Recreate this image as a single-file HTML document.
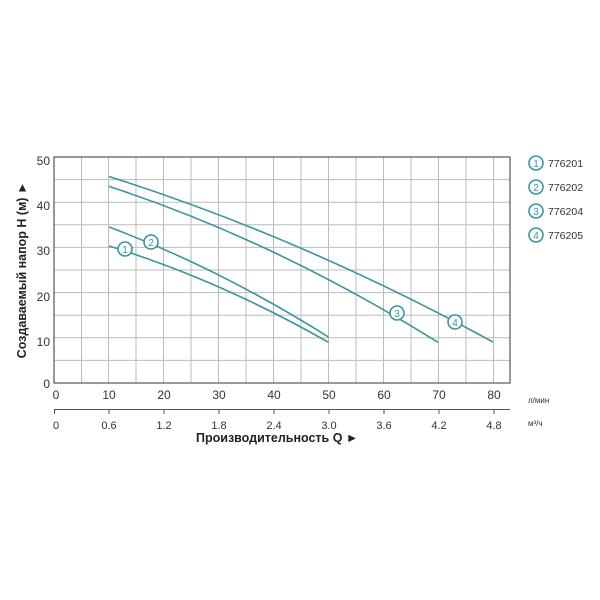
<!DOCTYPE html><html><head><meta charset="utf-8"><style>body{margin:0;background:#fff}svg{display:block}text{font-family:"Liberation Sans",sans-serif;fill:#333}</style></head><body>
<svg width="600" height="600" viewBox="0 0 600 600">
<g stroke="#bbb" stroke-width="1">
<line x1="81.5" y1="157" x2="81.5" y2="383"/><line x1="108.5" y1="157" x2="108.5" y2="383"/><line x1="136" y1="157" x2="136" y2="383"/><line x1="163.5" y1="157" x2="163.5" y2="383"/><line x1="191" y1="157" x2="191" y2="383"/><line x1="218.5" y1="157" x2="218.5" y2="383"/><line x1="246" y1="157" x2="246" y2="383"/><line x1="273.5" y1="157" x2="273.5" y2="383"/><line x1="301" y1="157" x2="301" y2="383"/><line x1="328.5" y1="157" x2="328.5" y2="383"/><line x1="356" y1="157" x2="356" y2="383"/><line x1="383.5" y1="157" x2="383.5" y2="383"/><line x1="411" y1="157" x2="411" y2="383"/><line x1="438.5" y1="157" x2="438.5" y2="383"/><line x1="466" y1="157" x2="466" y2="383"/><line x1="493.5" y1="157" x2="493.5" y2="383"/>
<line x1="54" y1="179.6" x2="510" y2="179.6"/><line x1="54" y1="202.2" x2="510" y2="202.2"/><line x1="54" y1="224.8" x2="510" y2="224.8"/><line x1="54" y1="247.4" x2="510" y2="247.4"/><line x1="54" y1="270" x2="510" y2="270"/><line x1="54" y1="292.6" x2="510" y2="292.6"/><line x1="54" y1="315.2" x2="510" y2="315.2"/><line x1="54" y1="337.8" x2="510" y2="337.8"/><line x1="54" y1="360.4" x2="510" y2="360.4"/>
</g>
<rect x="54" y="157" width="456" height="226" fill="none" stroke="#555" stroke-width="1.2"/>
<g fill="none" stroke="#3a969c" stroke-width="1.6">
<path d="M109 176.5 Q301 237.2 493 342"/>
<path d="M109 186.4 Q273.5 240 438 342.3"/>
<path d="M109 227 Q218.5 268 328.5 337"/>
<path d="M109 246 Q218.5 279.7 328.5 342.3"/>
</g>
<g fill="#fff" stroke="#3a969c" stroke-width="1.6">
<circle cx="125" cy="249" r="7"/><circle cx="151" cy="242" r="7"/><circle cx="397" cy="313" r="7"/><circle cx="455" cy="322" r="7"/>
<circle cx="536" cy="163" r="7"/><circle cx="536" cy="187" r="7"/><circle cx="536" cy="211" r="7"/><circle cx="536" cy="235" r="7"/>
</g>
<g font-size="10" text-anchor="middle">
<text x="125" y="253" style="fill:#3a969c">1</text><text x="151" y="246" style="fill:#3a969c">2</text><text x="397" y="317" style="fill:#3a969c">3</text><text x="455" y="326" style="fill:#3a969c">4</text>
<text x="536" y="167" style="fill:#3a969c">1</text><text x="536" y="191" style="fill:#3a969c">2</text><text x="536" y="215" style="fill:#3a969c">3</text><text x="536" y="239" style="fill:#3a969c">4</text>
</g>
<g font-size="10.5"><text x="548" y="167">776201</text><text x="548" y="191">776202</text><text x="548" y="215">776204</text><text x="548" y="239">776205</text></g>
<g font-size="12" text-anchor="end"><text x="50" y="165">50</text><text x="50" y="210">40</text><text x="50" y="255">30</text><text x="50" y="301">20</text><text x="50" y="346">10</text><text x="50" y="388">0</text></g>
<g font-size="12" text-anchor="middle"><text x="56" y="399">0</text><text x="109" y="399">10</text><text x="164" y="399">20</text><text x="219" y="399">30</text><text x="274" y="399">40</text><text x="329" y="399">50</text><text x="384" y="399">60</text><text x="439" y="399">70</text><text x="494" y="399">80</text></g>
<line x1="54" y1="409.5" x2="510" y2="409.5" stroke="#555" stroke-width="1"/>
<g stroke="#555"><line x1="54.5" y1="409" x2="54.5" y2="414"/><line x1="109" y1="409" x2="109" y2="414"/><line x1="164" y1="409" x2="164" y2="414"/><line x1="219" y1="409" x2="219" y2="414"/><line x1="274" y1="409" x2="274" y2="414"/><line x1="329" y1="409" x2="329" y2="414"/><line x1="384" y1="409" x2="384" y2="414"/><line x1="439" y1="409" x2="439" y2="414"/><line x1="494" y1="409" x2="494" y2="414"/></g>
<g font-size="11" text-anchor="middle"><text x="56" y="429">0</text><text x="109" y="429">0.6</text><text x="164" y="429">1.2</text><text x="219" y="429">1.8</text><text x="274" y="429">2.4</text><text x="329" y="429">3.0</text><text x="384" y="429">3.6</text><text x="439" y="429">4.2</text><text x="494" y="429">4.8</text></g>
<text x="528" y="403" font-size="8">л/мин</text><text x="528" y="426" font-size="8">м³/ч</text>
<text x="196" y="442" font-size="12.5" font-weight="bold" style="fill:#222">Производительность Q ►</text>
<text transform="translate(26 270) rotate(-90)" font-size="12.5" font-weight="bold" text-anchor="middle" style="fill:#222">Создаваемый напор H (м) ►</text>
</svg></body></html>
